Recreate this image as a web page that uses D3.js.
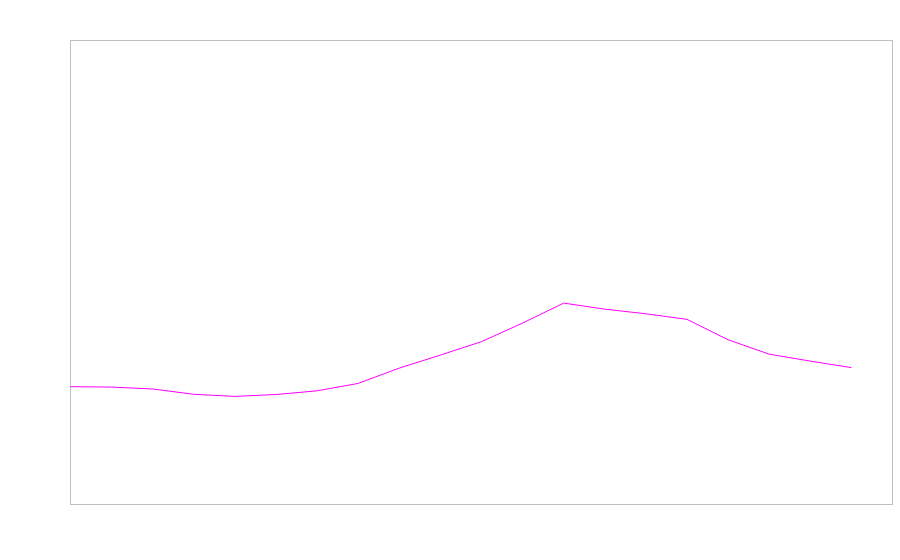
<!DOCTYPE html>
<html>
<head>
<meta charset="utf-8">
<script src="https://cdn.jsdelivr.net/npm/d3@7"></script>
<style>
	body { margin: 0; background: #fff; }
</style>
</head>
<body>
<svg id="chart" width="900" height="560"></svg>
<script>
// Series data
var xIndex = [0, 1, 2, 3, 4, 5, 6, 7, 8, 9, 10, 11, 12, 13, 14, 15, 16, 17, 18, 19];
var yValues = [25.4, 25.3, 24.9, 23.75, 23.3, 23.7, 24.5, 26.1, 29.4, 32.2,
	35.1, 39.1, 43.4, 42.1, 41.1, 39.9, 35.5, 32.4, 30.9, 29.5];

var width = 900,
	height = 560,
	margin = {top: 40.5, right: 7.5, bottom: 55.5, left: 70.5};

var svg = d3.select("#chart");

// Scales
var x = d3.scaleLinear()
	.domain([0, 20])
	.range([margin.left, width - margin.right]);
var y = d3.scaleLinear()
	.domain([0, 100])
	.range([height - margin.bottom, margin.top]);

// Plot frame
svg.append("rect")
	.attr("x", x(0))
	.attr("y", y(100))
	.attr("width", x(20) - x(0))
	.attr("height", y(0) - y(100))
	.attr("fill", "none")
	.attr("stroke", "#bfbfbf")
	.attr("stroke-width", 1);

// Line
var line = d3.line()
	.x((d, i) => x(xIndex[i]))
	.y((d) => y(d));

svg.append("path")
	.datum(yValues)
	.attr("d", line)
	.attr("fill", "none")
	.attr("stroke", "#ff00ff")
	.attr("stroke-width", 1);
</script>
</body>
</html>
